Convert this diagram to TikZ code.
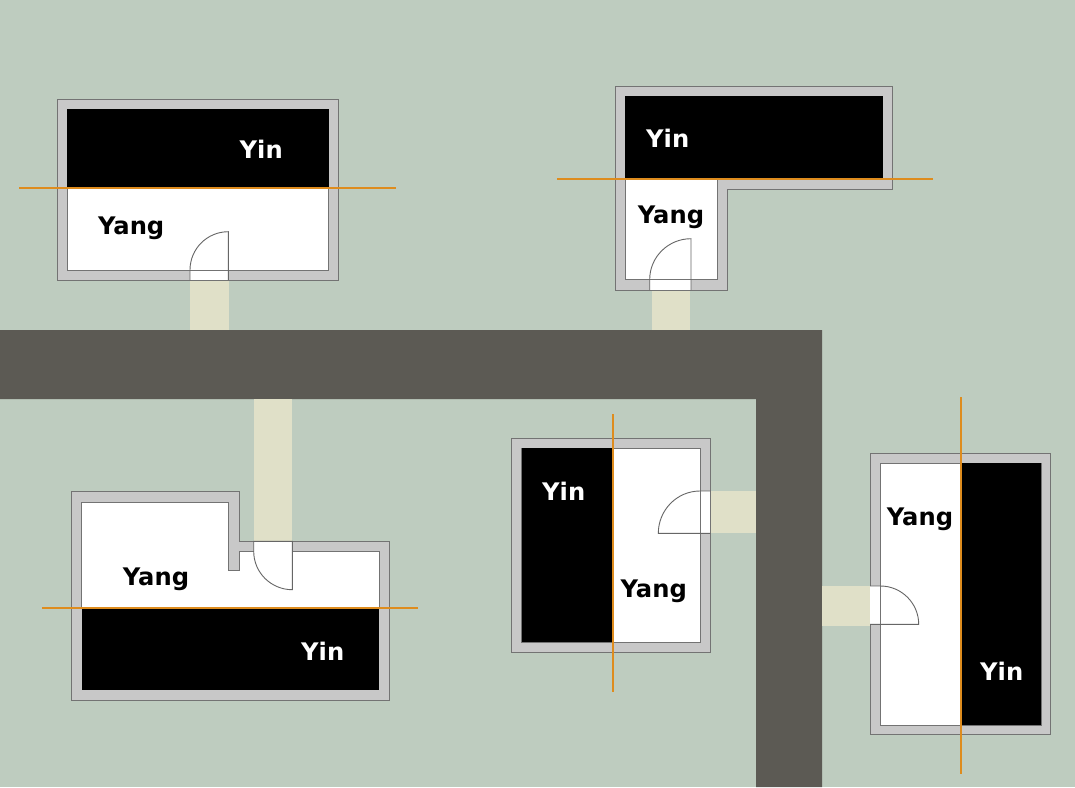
\documentclass[tikz,border=0pt]{standalone}
\usepackage{fontspec}
\setmainfont{DejaVu Sans}
\definecolor{bgc}{RGB}{190,204,191}
\definecolor{roadc}{RGB}{92,90,84}
\definecolor{pathc}{RGB}{224,224,200}
\definecolor{wallc}{RGB}{200,200,200}
\definecolor{edgec}{RGB}{115,115,115}
\definecolor{axisc}{RGB}{222,140,30}
\tikzset{
  outerwall/.style={fill=wallc,draw=edgec,line width=1pt},
  innerroom/.style={fill=white,draw=edgec,line width=1pt},
  yinzone/.style={fill=black},
  walkway/.style={fill=pathc},
  gapfill/.style={fill=white},
  doorleaf/.style={draw=black!60,line width=0.9pt},
  axisline/.style={draw=axisc,line width=2pt},
  lab/.style={font=\fontsize{24.2}{25}\selectfont\bfseries,inner sep=0pt,anchor=base,xshift=0.7pt,yshift=-0.3pt},
  yinlab/.style={lab,text=white},
  yanglab/.style={lab,text=black}
}
\begin{document}
\begin{tikzpicture}[x=1pt,y=-1pt]
\useasboundingbox (0,0) rectangle (1075,787);
\fill[bgc] (0,0) rectangle (1075,787);
% road
\fill[roadc] (0,330) -- (822,330) -- (822,787) -- (756,787) -- (756,399) -- (0,399) -- cycle;
% walkways
\fill[walkway] (190,280) rectangle (229,330);
\fill[walkway] (652,290) rectangle (690,330);
\fill[walkway] (254,399) rectangle (292,541.5);
\fill[walkway] (710,491) rectangle (756,533);
\fill[walkway] (822,586) rectangle (870,626);

% room 1
\path[outerwall] (57.5,99.5) rectangle (338.5,280);
\path[innerroom] (67,109) rectangle (328.5,270);
\fill[yinzone] (67,109) rectangle (328.5,187.5);
\fill[gapfill] (190,270.5) rectangle (228.3,280);
\draw[doorleaf] (190,280) -- (190,270) .. controls (190,248.8) and (207.2,231.7) .. (228.3,231.7) -- (228.3,280);
\draw[axisline] (19,187.5) -- (396,187.5);
\node[yinlab] (yin1) at (260.5,157.7) {Yin};
\node[yanglab] (yang1) at (130.5,234.3) {Yang};

% room 2
\path[outerwall] (615.5,86.5) -- (892.7,86.5) -- (892.7,189.3) -- (727.3,189.3) -- (727.3,290) -- (615.5,290) -- cycle;
\path[innerroom] (625.7,178.7) -- (717.3,178.7) -- (717.3,279.5) -- (625.7,279.5) -- cycle;
\fill[yinzone] (625,96) rectangle (882.5,178.5);
\fill[gapfill] (650,280) rectangle (691,290);
\draw[doorleaf] (649.7,290) -- (649.7,279.5) .. controls (649.7,257) and (668.2,238.7) .. (691,238.7) -- (691,290);
\draw[axisline] (557,178.5) -- (933,178.5);
\node[yinlab] (yin2) at (667,146.7) {Yin};
\node[yanglab] (yang2) at (670.3,223.3) {Yang};

% room 3
\path[outerwall] (71.5,491.7) -- (239,491.7) -- (239,541.3) -- (389.3,541.3) -- (389.3,700) -- (71.5,700) -- cycle;
\path[innerroom] (81.7,502) -- (228.7,502) -- (228.7,570) -- (239.3,570) -- (239.3,551.3) -- (379.3,551.3) -- (379.3,607.3) -- (81.7,607.3) -- cycle;
\fill[yinzone] (81.7,607.5) rectangle (379.3,690);
\fill[gapfill] (253.7,541.3) rectangle (292.3,552);
\draw[doorleaf] (253.7,541.3) -- (292.3,541.3) -- (292.3,589.7) .. controls (271,589.7) and (253.7,572.5) .. (253.7,551.3) -- cycle;
\draw[axisline] (42,607.5) -- (418,607.5);
\node[yanglab] (yang3) at (155.3,585) {Yang};
\node[yinlab] (yin3) at (322,660) {Yin};

% room 4
\path[outerwall] (511.5,438.5) rectangle (710.3,652.3);
\path[innerroom] (521.7,448.3) rectangle (700,642.3);
\fill[yinzone] (521.7,448.3) rectangle (612.7,642.3);
\fill[gapfill] (700.5,491) rectangle (710.3,533.3);
\draw[doorleaf] (710.3,491) -- (700,491) .. controls (677,491) and (658.3,510) .. (658.3,533.3) -- (710.3,533.3);
\draw[axisline] (612.5,414) -- (612.5,692);
\node[yinlab] (yin4) at (563,500) {Yin};
\node[yanglab] (yang4) at (653,596.7) {Yang};

% room 5
\path[outerwall] (870,453.5) rectangle (1050.7,734.7);
\path[innerroom] (880,463.3) rectangle (1041.3,725);
\fill[yinzone] (961,463.3) rectangle (1041.3,725);
\fill[gapfill] (870,586) rectangle (879.5,624.3);
\draw[doorleaf] (870,586) -- (880.4,586) .. controls (901.5,586) and (918.7,603.2) .. (918.7,624.3) -- (870,624.3);
\draw[axisline] (961,397) -- (961,774);
\node[yanglab] (yang5) at (919.3,525) {Yang};
\node[yinlab] (yin5) at (1001,680) {Yin};
\end{tikzpicture}
\end{document}
